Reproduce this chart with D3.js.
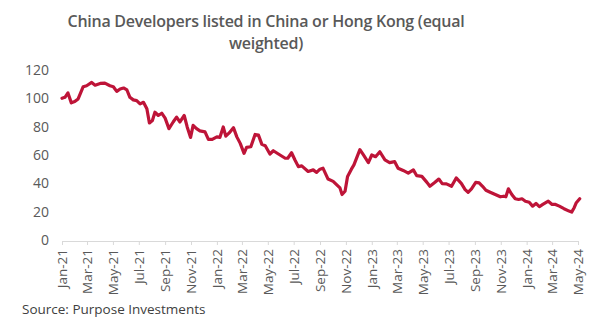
<!DOCTYPE html>
<html>
<head>
<meta charset="utf-8">
<script src="https://cdn.jsdelivr.net/npm/d3@7"></script>
<style>
  html, body { margin: 0; padding: 0; background: #fff; }
  svg { display: block; font-family: "Open Sans", "DejaVu Sans", sans-serif; }
</style>
</head>
<body>
<svg id="chart" width="609" height="330"></svg>
<script>
// Index level of China developers listed in China or Hong Kong (equal weighted)
const dates = [
  "2021-01-01","2021-01-08","2021-01-15","2021-01-23","2021-01-31","2021-02-08","2021-02-20","2021-02-28",
  "2021-03-12","2021-03-20","2021-04-01","2021-04-12","2021-04-24","2021-05-02","2021-05-10","2021-05-18",
  "2021-05-26","2021-06-03","2021-06-10","2021-06-18","2021-06-26","2021-07-04","2021-07-12","2021-07-20",
  "2021-07-26","2021-08-02","2021-08-08","2021-08-16","2021-08-24","2021-09-01","2021-09-10","2021-09-20",
  "2021-09-28","2021-10-06","2021-10-16","2021-10-23","2021-10-31","2021-11-06","2021-11-14","2021-11-22",
  "2021-12-04","2021-12-12","2021-12-21","2022-01-01","2022-01-08","2022-01-16","2022-01-22","2022-01-30",
  "2022-02-09","2022-02-17","2022-02-25","2022-03-06","2022-03-12","2022-03-22","2022-04-01","2022-04-09",
  "2022-04-17","2022-04-25","2022-05-06","2022-05-14","2022-05-26","2022-06-11","2022-06-17","2022-06-26",
  "2022-07-04","2022-07-12","2022-07-20","2022-08-04","2022-08-16","2022-08-24","2022-09-01","2022-09-08",
  "2022-09-20","2022-10-02","2022-10-10","2022-10-18","2022-10-23","2022-10-30","2022-11-05","2022-11-14",
  "2022-11-20","2022-12-04","2022-12-12","2022-12-24","2023-01-01","2023-01-10","2023-01-20","2023-02-01",
  "2023-02-12","2023-02-24","2023-03-04","2023-03-16","2023-03-28","2023-04-09","2023-04-17","2023-04-29",
  "2023-05-11","2023-05-18","2023-05-30","2023-06-08","2023-06-16","2023-06-26","2023-07-08","2023-07-19",
  "2023-07-31","2023-08-09","2023-08-16","2023-08-24","2023-09-03","2023-09-11","2023-09-19","2023-09-27",
  "2023-10-07","2023-10-19","2023-10-31","2023-11-08","2023-11-13","2023-11-19","2023-11-27","2023-12-05",
  "2023-12-13","2023-12-21","2023-12-29","2024-01-07","2024-01-15","2024-01-23","2024-01-31","2024-02-08",
  "2024-02-21","2024-03-01","2024-03-09","2024-03-18","2024-03-29","2024-04-10","2024-04-16","2024-04-22",
  "2024-04-27","2024-05-05"
];
const values = [
  100.0,100.7,103.8,96.8,97.7,99.6,108.2,108.9,
  111.2,109.3,110.5,110.7,108.9,108.2,104.9,106.6,
  107.3,105.9,100.7,98.9,98.4,96.1,97.2,92.6,
  82.6,84.4,90.2,87.9,89.5,86.0,78.6,83.3,
  86.7,83.3,87.9,79.8,72.4,80.9,78.6,77.0,
  76.3,71.0,71.0,72.8,72.4,79.8,73.3,75.6,
  79.3,72.8,68.2,61.2,65.4,65.8,74.5,74.0,
  67.5,66.5,60.7,63.0,60.7,57.7,57.7,61.6,
  56.5,51.8,52.3,48.4,49.5,47.7,50.0,50.7,
  43.0,41.4,39.1,36.8,32.1,34.4,44.9,50.0,
  53.0,63.8,60.2,54.6,60.0,58.8,62.3,56.5,
  54.6,55.3,50.7,49.1,47.2,49.5,45.4,44.9,
  40.7,37.9,40.7,43.0,39.8,39.6,37.9,43.8,
  40.0,35.6,33.7,36.1,40.7,40.3,37.9,35.1,
  33.7,32.1,30.5,30.9,30.5,36.1,32.1,29.1,
  28.6,29.1,27.4,26.7,23.9,25.8,23.5,25.1,
  27.4,25.1,25.1,23.9,22.1,20.4,19.7,22.8,
  26.3,29.1
];
const yTicks = [0, 20, 40, 60, 80, 100, 120];
const titleLines = ["China Developers listed in China or Hong Kong (equal", "weighted)"];
const sourceText = "Source: Purpose Investments";

const parse = d3.timeParse("%Y-%m-%d");
const series = dates.map((d, i) => ({ date: parse(d), value: values[i] }));

const svg = d3.select("#chart");
const textColor = "#595959";
const fontStack = "'Open Sans', 'DejaVu Sans', sans-serif";

const x = d3.scaleTime()
  .domain([new Date(2021, 0, 1), new Date(2024, 4, 1)])
  .range([62, 578]);
const y = d3.scaleLinear().domain([0, 120]).range([240, 70]);

// Title
svg.append("g")
  .selectAll("text")
  .data(titleLines)
  .join("text")
  .attr("x", 266)
  .attr("y", (d, i) => 27 + i * 22)
  .attr("text-anchor", "middle")
  .attr("font-size", 16)
  .attr("font-weight", 600)
  .attr("letter-spacing", -0.25)
  .attr("fill", textColor)
  .text(d => d);

// Y axis labels (no axis line, no gridlines)
const yAxis = d3.axisLeft(y).tickValues(yTicks).tickSize(0).tickPadding(0);
const yg = svg.append("g").attr("transform", "translate(49,0)").call(yAxis);
yg.select(".domain").remove();
yg.selectAll("text")
  .attr("font-size", 14)
  .attr("font-family", fontStack)
  .attr("fill", textColor);

// X axis with two-month ticks and rotated labels
const xAxis = d3.axisBottom(x)
  .ticks(d3.timeMonth.every(2))
  .tickSize(4)
  .tickSizeOuter(0)
  .tickFormat(d3.timeFormat("%b-%y"));
const xg = svg.append("g").attr("transform", "translate(0,241)").call(xAxis);
xg.select(".domain").attr("stroke", "#d9d9d9");
xg.selectAll(".tick line").attr("stroke", "#d9d9d9");
xg.selectAll("text")
  .attr("font-size", 13.5)
  .attr("font-family", fontStack)
  .attr("fill", textColor)
  .attr("text-anchor", "end")
  .attr("transform", "rotate(-90)")
  .attr("x", -8)
  .attr("y", 0)
  .attr("dy", "0.35em");

// Series line
const line = d3.line()
  .x(d => x(d.date))
  .y(d => y(d.value));
svg.append("path")
  .datum(series)
  .attr("fill", "none")
  .attr("stroke", "#BE1438")
  .attr("stroke-width", 3.2)
  .attr("stroke-linejoin", "round")
  .attr("stroke-linecap", "round")
  .attr("d", line);

// Source note
svg.append("text")
  .attr("x", 22)
  .attr("y", 314)
  .attr("font-size", 13.5)
  .attr("fill", "#404040")
  .text(sourceText);
</script>
</body>
</html>
